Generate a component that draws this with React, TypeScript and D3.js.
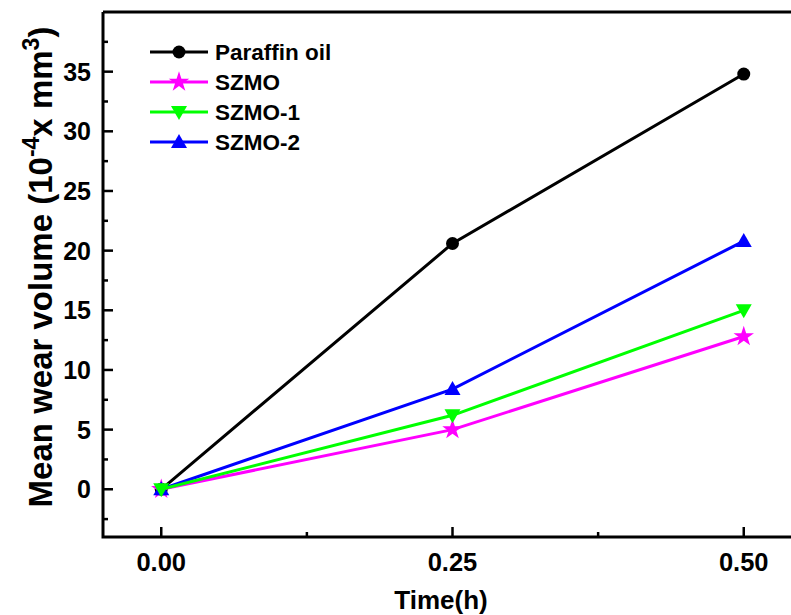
import React from 'react';
import * as d3 from 'd3';

// time points (h)
const times = [0, 0.25, 0.5];

// mean wear volume, 10^-4 x mm^3
const paraffin = [0, 20.6, 34.8];
const szmo = [0, 5.0, 12.8];
const szmo1 = [0, 6.2, 15.0];
const szmo2 = [0, 8.4, 20.8];

const seriesNames = ['Paraffin oil', 'SZMO', 'SZMO-1', 'SZMO-2'];
const seriesColors = ['#000000', '#ff00ff', '#00ff00', '#0000ff'];
const seriesSymbols = ['circle', 'star', 'down', 'up'];
const seriesValues = [paraffin, szmo, szmo1, szmo2];
// draw order: green triangle sits on top of the blue one at t = 0
const drawOrder = [0, 1, 3, 2];

const xTicks = [0, 0.25, 0.5];
const xMinor = [0.125, 0.375];
const yTicks = [0, 5, 10, 15, 20, 25, 30, 35];
const yMinor = [-2.5, 2.5, 7.5, 12.5, 17.5, 22.5, 27.5, 32.5, 37.5];

const W = 791;
const H = 615;
const left = 103;
const top = 12;
const right = 802;
const bottom = 537;

const font = '"Liberation Sans", Arial, sans-serif';

function Marker({ type, x, y, color }) {
  if (type === 'circle') return <circle cx={x} cy={y} r={6.5} fill={color} />;
  if (type === 'star') {
    const p = d3.symbol().type(d3.symbolStar).size(130)();
    return <path d={p} transform={`translate(${x},${y})`} fill={color} />;
  }
  const s = 8;
  const pts = type === 'up'
    ? [[x, y - s], [x + s, y + s * 0.75], [x - s, y + s * 0.75]]
    : [[x, y + s], [x + s, y - s * 0.75], [x - s, y - s * 0.75]];
  return <polygon points={pts.map(p => p.join(',')).join(' ')} fill={color} />;
}

export default function App() {
  const x = d3.scaleLinear().domain([-0.05, 0.55]).range([left, right]);
  const y = d3.scaleLinear().domain([-4, 40]).range([bottom, top]);
  const line = d3.line().x(d => x(d[0])).y(d => y(d[1]));

  return (
    <svg width={W} height={H} style={{ position: 'absolute', left: 0, top: 0, background: '#fff' }}
      fontFamily={font} fontWeight="bold">
      {/* frame */}
      <path d={`M${left},${top}H${right}M${left},${top}V${bottom}H${right}`} stroke="#000" strokeWidth={3} fill="none" />

      {/* x ticks */}
      {xTicks.map(t => (
        <g key={'xt' + t}>
          <line x1={x(t)} x2={x(t)} y1={bottom} y2={bottom - 10} stroke="#000" strokeWidth={2.5} />
          <text x={x(t)} y={571} textAnchor="middle" fontSize={25.5}>{t.toFixed(2)}</text>
        </g>
      ))}
      {xMinor.map(t => (
        <line key={'xm' + t} x1={x(t)} x2={x(t)} y1={bottom} y2={bottom - 5} stroke="#000" strokeWidth={2.5} />
      ))}

      {/* y ticks */}
      {yTicks.map(t => (
        <g key={'yt' + t}>
          <line x1={left} x2={left + 10} y1={y(t)} y2={y(t)} stroke="#000" strokeWidth={2.5} />
          <text x={91} y={y(t) + 9} textAnchor="end" fontSize={25}>{t}</text>
        </g>
      ))}
      {yMinor.map(t => (
        <line key={'ym' + t} x1={left} x2={left + 5} y1={y(t)} y2={y(t)} stroke="#000" strokeWidth={2.5} />
      ))}

      {/* axis titles */}
      <text x={441} y={609} textAnchor="middle" fontSize={26}>Time(h)</text>
      <text transform={`translate(52,267) rotate(-90)`} textAnchor="middle" fontSize={33}>
        Mean wear volume (10<tspan dy={-13} fontSize={23}>-4</tspan><tspan dy={13}>x mm</tspan><tspan dy={-13} fontSize={23}>3</tspan><tspan dy={13}>)</tspan>
      </text>

      {/* series */}
      {drawOrder.map(i => {
        const pts = times.map((t, j) => [t, seriesValues[i][j]]);
        return (
          <g key={seriesNames[i]}>
            <path d={line(pts)} stroke={seriesColors[i]} strokeWidth={3} fill="none" />
            {pts.map((p, j) => (
              <Marker key={j} type={seriesSymbols[i]} x={x(p[0])} y={y(p[1])} color={seriesColors[i]} />
            ))}
          </g>
        );
      })}

      {/* legend */}
      {seriesNames.map((name, i) => {
        const ly = 52 + i * 30;
        return (
          <g key={'lg' + name}>
            <line x1={150} x2={208} y1={ly} y2={ly} stroke={seriesColors[i]} strokeWidth={3} />
            <Marker type={seriesSymbols[i]} x={179} y={ly} color={seriesColors[i]} />
            <text x={215} y={ly + 8} fontSize={22.5}>{name}</text>
          </g>
        );
      })}
    </svg>
  );
}
